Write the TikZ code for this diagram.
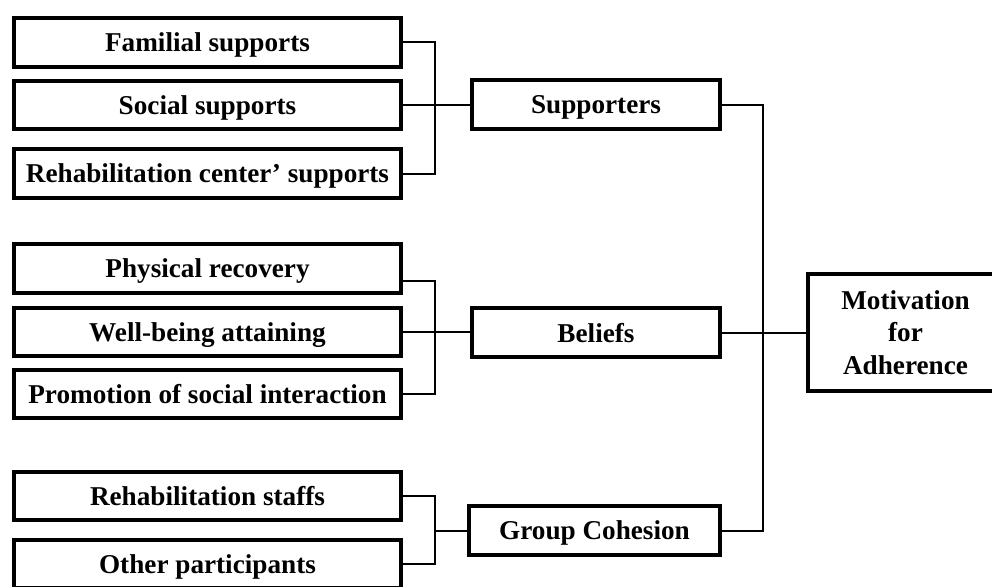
\documentclass[tikz,border=0pt]{standalone}
\usepackage{fontspec}
\setmainfont{Liberation Serif}
\begin{document}
\begin{tikzpicture}[x=1pt,y=-1pt,
  box/.style={draw, line width=4pt, rectangle, inner sep=0pt, align=center,
    font=\fontsize{27.2}{32.5}\selectfont\bfseries},
  onebox/.style={box, text depth=0pt},
  leftbox/.style={onebox, minimum width=387pt, minimum height=48.5pt},
  midbox/.style={onebox, minimum height=49pt},
  conn/.style={line width=2pt}]
\useasboundingbox (0,0) rectangle (992,586);
\clip (0,0) rectangle (992,586);
% left column
\node[leftbox] (fam) at (207.5,42.5) {Familial supports};
\node[leftbox] (soc) at (207.5,105) {Social supports};
\node[leftbox] (rcs) at (207.5,173.5) {Rehabilitation center’ supports};
\node[leftbox] (phy) at (207.5,268.5) {Physical recovery};
\node[leftbox] (wb)  at (207.5,332) {Well-being attaining};
\node[leftbox] (pro) at (207.5,394) {Promotion of social interaction};
\node[leftbox] (rst) at (207.5,496) {Rehabilitation staffs};
\node[leftbox] (oth) at (207.5,564) {Other participants};
% middle column
\node[midbox, minimum width=248pt] (sup) at (596,104.5) {Supporters};
\node[midbox, minimum width=248pt] (bel) at (596,332.5) {Beliefs};
\node[midbox, minimum width=251pt] (grp) at (594.5,530.5) {Group Cohesion};
% right
\node[box, minimum width=225pt, minimum height=117pt, text width=190pt] (mot) at (920.5,332.5) {\hspace*{-30pt}Motivation\\\hspace*{-30pt}for\\\hspace*{-30pt}Adherence};
% bus points
\coordinate (bx1) at (435,105);
\coordinate (bx2) at (435,332);
\coordinate (bx3) at (435,531);
\coordinate (bx4) at (763,332);
% connectors
\draw[conn] (fam.east) -| (bx1) |- (rcs.east);
\draw[conn] (soc.east) -- (soc.east -| sup.west);
\draw[conn] ([yshift=-12.5pt]phy.east) -| (bx2) |- (pro.east);
\draw[conn] (wb.east) -- (wb.east -| bel.west);
\draw[conn] (rst.east) -| (bx3) |- (oth.east);
\draw[conn] (bx3) -- (bx3 -| grp.west);
\draw[conn] (sup.east) -| (bx4) |- (grp.east);
\draw[conn] (bel.east) -- (bel.east -| mot.west);
\end{tikzpicture}
\end{document}
